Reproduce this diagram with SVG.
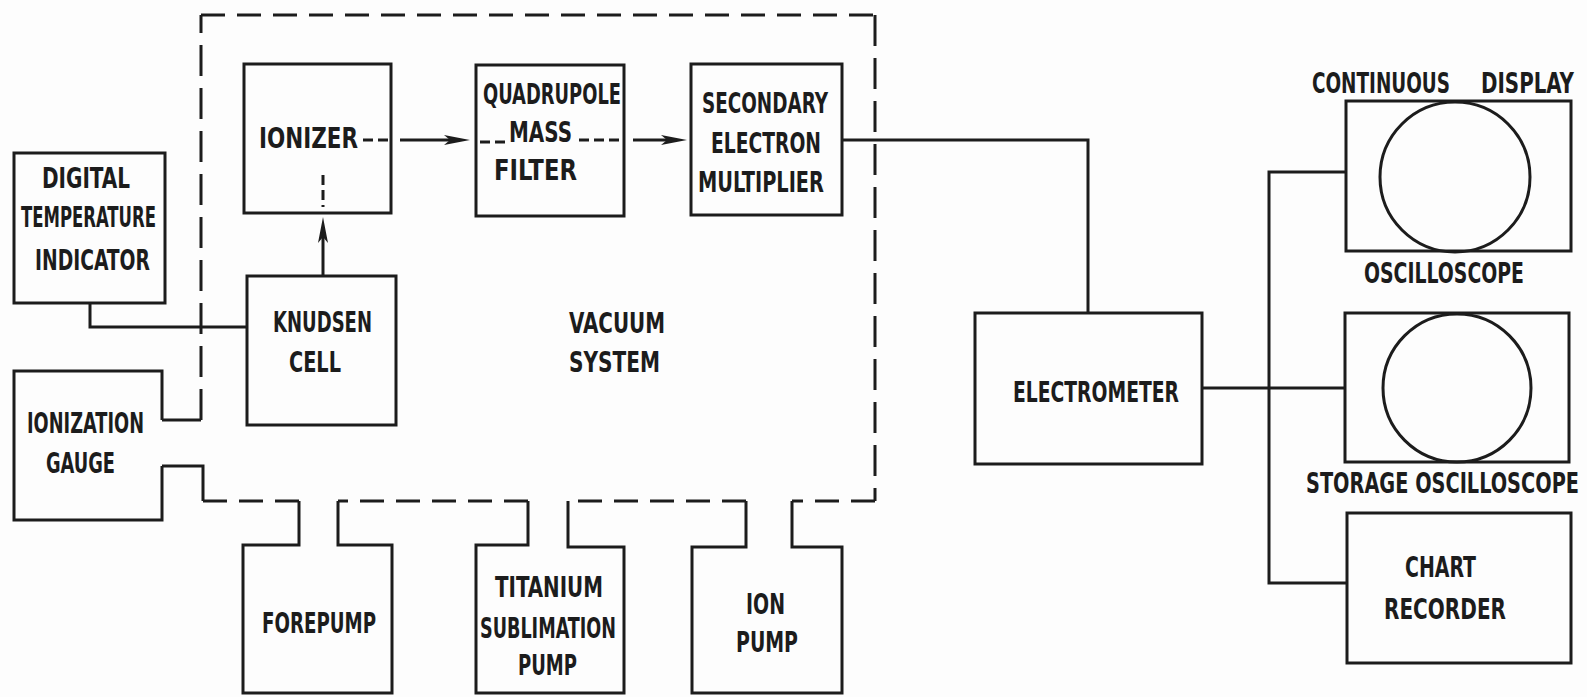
<svg xmlns="http://www.w3.org/2000/svg" width="1587" height="697" viewBox="0 0 1587 697">
<defs>
<style>
.box{fill:none;stroke:#1c1c1c;stroke-width:3;stroke-linejoin:miter}
.ln{fill:none;stroke:#1c1c1c;stroke-width:3}
.dh{fill:none;stroke:#1c1c1c;stroke-width:3;stroke-dasharray:24 12}
.dv{fill:none;stroke:#1c1c1c;stroke-width:3;stroke-dasharray:31 12}
.ds{fill:none;stroke:#1c1c1c;stroke-width:3;stroke-dasharray:10 5}
.t{font-family:"Liberation Sans Narrow","DejaVu Sans Condensed","Liberation Sans",sans-serif;font-weight:bold;font-size:29px;fill:#1c1c1c}
.e{text-anchor:end}
</style>
<marker id="ah" viewBox="0 0 26 12" refX="16" refY="6" markerWidth="26" markerHeight="12" markerUnits="userSpaceOnUse" orient="auto">
<path d="M0,1 L26,6 L0,11 L6,6 Z" fill="#1c1c1c"/>
</marker>
</defs>
<rect x="0" y="0" width="1587" height="697" fill="#fdfdfd"/>

<g id="vacuum-system">
<path class="dv" d="M201,420 V15"/>
<path class="dh" d="M201,15 H875"/>
<path class="dv" d="M875,15 V501"/>
<path class="dh" d="M875,501 H792"/>
<path class="dh" d="M746,501 H568"/>
<path class="dh" d="M528,501 H338"/>
<path class="dh" d="M299,501 H203"/>
<path class="ln" d="M162,420 H201"/>
<path class="ln" d="M162,466 H203 V501"/>
<text class="t" x="569" y="333" textLength="96" lengthAdjust="spacingAndGlyphs">VACUUM</text>
<text class="t" x="569" y="372" textLength="91" lengthAdjust="spacingAndGlyphs">SYSTEM</text>
</g>

<g id="digital-temperature-indicator">
<rect class="box" x="14" y="153" width="151" height="150"/>
<text class="t" x="42" y="188" textLength="88" lengthAdjust="spacingAndGlyphs">DIGITAL</text>
<text class="t" x="21" y="227" textLength="135" lengthAdjust="spacingAndGlyphs">TEMPERATURE</text>
<text class="t" x="35" y="270" textLength="115" lengthAdjust="spacingAndGlyphs">INDICATOR</text>
</g>

<g id="ionization-gauge">
<path class="box" d="M162,420 V371 H14 V520 H162 V466"/>
<text class="t" x="27" y="433" textLength="117" lengthAdjust="spacingAndGlyphs">IONIZATION</text>
<text class="t" x="46" y="473" textLength="69" lengthAdjust="spacingAndGlyphs">GAUGE</text>
</g>

<g id="ionizer">
<rect class="box" x="244" y="64" width="147" height="149"/>
<text class="t" x="259" y="148" textLength="99" lengthAdjust="spacingAndGlyphs">IONIZER</text>
</g>

<g id="knudsen-cell">
<rect class="box" x="247" y="276" width="149" height="149"/>
<text class="t" x="273" y="332" textLength="99" lengthAdjust="spacingAndGlyphs">KNUDSEN</text>
<text class="t" x="289" y="372" textLength="52" lengthAdjust="spacingAndGlyphs">CELL</text>
</g>

<g id="quadrupole-mass-filter">
<rect class="box" x="476" y="65" width="148" height="151"/>
<text class="t" x="483" y="104" textLength="138" lengthAdjust="spacingAndGlyphs">QUADRUPOLE</text>
<text class="t" x="509" y="142" textLength="63" lengthAdjust="spacingAndGlyphs">MASS</text>
<text class="t" x="494" y="180" textLength="83" lengthAdjust="spacingAndGlyphs">FILTER</text>
</g>

<g id="secondary-electron-multiplier">
<rect class="box" x="691" y="64" width="151" height="151"/>
<text class="t" x="702" y="113" textLength="126" lengthAdjust="spacingAndGlyphs">SECONDARY</text>
<text class="t" x="711" y="153" textLength="110" lengthAdjust="spacingAndGlyphs">ELECTRON</text>
<text class="t" x="698" y="192" textLength="126" lengthAdjust="spacingAndGlyphs">MULTIPLIER</text>
</g>

<g id="forepump">
<path class="box" d="M299,501 V545 H243 V693 H392 V545 H338 V501"/>
<text class="t" x="262" y="633" textLength="114" lengthAdjust="spacingAndGlyphs">FOREPUMP</text>
</g>

<g id="titanium-sublimation-pump">
<path class="box" d="M528,501 V545 H476 V693 H624 V547 H568 V501"/>
<text class="t" x="495" y="597" textLength="108" lengthAdjust="spacingAndGlyphs">TITANIUM</text>
<text class="t" x="480" y="638" textLength="136" lengthAdjust="spacingAndGlyphs">SUBLIMATION</text>
<text class="t" x="518" y="675" textLength="59" lengthAdjust="spacingAndGlyphs">PUMP</text>
</g>

<g id="ion-pump">
<path class="box" d="M746,501 V547 H692 V693 H842 V547 H792 V501"/>
<text class="t" x="746" y="614" textLength="39" lengthAdjust="spacingAndGlyphs">ION</text>
<text class="t" x="736" y="652" textLength="62" lengthAdjust="spacingAndGlyphs">PUMP</text>
</g>

<g id="electrometer">
<rect class="box" x="975" y="313" width="227" height="151"/>
<text class="t" x="1013" y="402" textLength="166" lengthAdjust="spacingAndGlyphs">ELECTROMETER</text>
</g>

<g id="continuous-display-oscilloscope">
<rect class="box" x="1346" y="101" width="225" height="150"/>
<circle class="box" cx="1455" cy="177" r="75"/>
<text class="t" x="1312" y="93" textLength="138" lengthAdjust="spacingAndGlyphs">CONTINUOUS</text>
<text class="t e" x="1574" y="93" textLength="93" lengthAdjust="spacingAndGlyphs">DISPLAY</text>
<text class="t" x="1364" y="283" textLength="160" lengthAdjust="spacingAndGlyphs">OSCILLOSCOPE</text>
</g>

<g id="storage-oscilloscope">
<rect class="box" x="1345" y="313" width="224" height="149"/>
<circle class="box" cx="1457" cy="388" r="74"/>
<text class="t e" x="1579" y="493" textLength="273" lengthAdjust="spacingAndGlyphs">STORAGE OSCILLOSCOPE</text>
</g>

<g id="chart-recorder">
<rect class="box" x="1347" y="513" width="224" height="150"/>
<text class="t" x="1405" y="577" textLength="71" lengthAdjust="spacingAndGlyphs">CHART</text>
<text class="t" x="1384" y="619" textLength="122" lengthAdjust="spacingAndGlyphs">RECORDER</text>
</g>

<g id="connectors">
<path class="ln" d="M90,303 V327 H247"/>
<path class="ds" d="M363,140 H391"/>
<path class="ln" d="M400,140 H460" marker-end="url(#ah)"/>
<path class="ds" d="M480,142 H507"/>
<path class="ds" d="M579,140 H622"/>
<path class="ln" d="M633,140 H677" marker-end="url(#ah)"/>
<path class="ds" d="M323,175 V207"/>
<path class="ln" d="M323,275 V227" marker-end="url(#ah)"/>
<path class="ln" d="M842,140 H1088 V313"/>
<path class="ln" d="M1202,388 H1345"/>
<path class="ln" d="M1346,172 H1269 V583 H1347"/>
</g>
</svg>
